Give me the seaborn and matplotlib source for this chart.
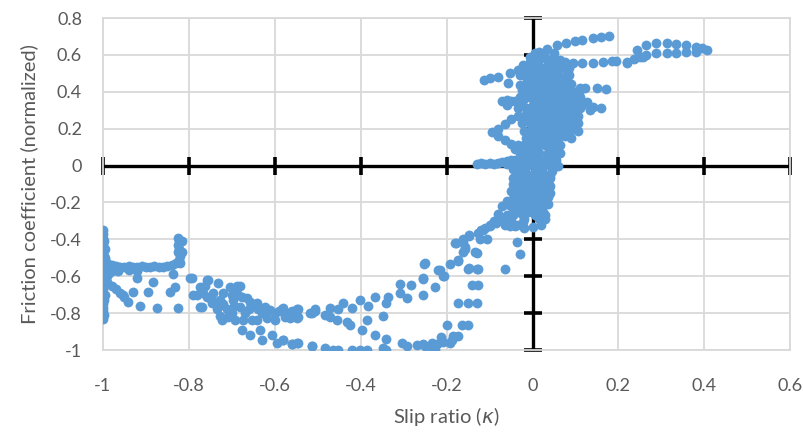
import numpy as np
import pandas as pd
import matplotlib
matplotlib.use("Agg")
import matplotlib.pyplot as plt
import seaborn as sns

# ---- measured (slip ratio, normalized friction) samples, grouped by trace section ----
lock_wall = [(-1.000, -0.35), (-0.999, -0.37), (-1.000, -0.39), (-0.998, -0.41), (-1.000, -0.43),
             (-0.999, -0.45), (-1.000, -0.47), (-0.998, -0.49), (-1.000, -0.51), (-0.999, -0.53),
             (-1.000, -0.55), (-0.998, -0.57), (-1.000, -0.59), (-0.999, -0.61), (-1.000, -0.63),
             (-0.998, -0.65), (-1.000, -0.67), (-0.999, -0.69), (-1.000, -0.71), (-0.998, -0.73),
             (-1.000, -0.75), (-0.999, -0.77), (-1.000, -0.79), (-0.998, -0.81), (-1.000, -0.83),
             (-0.995, -0.45), (-0.994, -0.50), (-0.993, -0.58), (-0.994, -0.62), (-0.995, -0.70),
             (-0.990, -0.60), (-0.985, -0.58), (-0.980, -0.57), (-0.990, -0.63), (-0.980, -0.655),
             (-0.970, -0.67), (-0.960, -0.69), (-0.950, -0.71)]

lock_band = [(-0.990, -0.53), (-0.980, -0.54), (-0.970, -0.545), (-0.960, -0.55), (-0.950, -0.55),
             (-0.940, -0.545), (-0.930, -0.55), (-0.920, -0.55), (-0.910, -0.545), (-0.900, -0.55),
             (-0.890, -0.55), (-0.880, -0.545), (-0.870, -0.55), (-0.860, -0.55), (-0.850, -0.545),
             (-0.840, -0.54), (-0.830, -0.53), (-0.985, -0.565), (-0.965, -0.57), (-0.940, -0.565),
             (-0.920, -0.57),
             (-0.825, -0.39), (-0.822, -0.41), (-0.825, -0.43), (-0.822, -0.45), (-0.825, -0.47),
             (-0.820, -0.49), (-0.823, -0.51), (-0.820, -0.53), (-0.815, -0.41), (-0.815, -0.47)]

lock_scatter = [(-0.930, -0.685), (-0.895, -0.685), (-0.942, -0.74), (-0.914, -0.76), (-0.874, -0.77),
                (-0.826, -0.77), (-0.953, -0.70), (-0.921, -0.61), (-0.884, -0.63), (-0.837, -0.59),
                (-0.798, -0.61), (-0.844, -0.685), (-0.833, -0.66), (-0.758, -0.62), (-0.774, -0.765),
                (-0.781, -0.70)]

upper_branch = [(-0.793, -0.61), (-0.790, -0.70), (-0.774, -0.66), (-0.770, -0.765), (-0.767, -0.69),
                (-0.763, -0.655), (-0.758, -0.71), (-0.756, -0.62), (-0.747, -0.745), (-0.744, -0.69),
                (-0.735, -0.78), (-0.733, -0.635), (-0.728, -0.73), (-0.728, -0.815), (-0.723, -0.835),
                (-0.721, -0.69), (-0.712, -0.78), (-0.705, -0.66), (-0.698, -0.73), (-0.693, -0.835),
                (-0.688, -0.655), (-0.681, -0.655), (-0.677, -0.71), (-0.681, -0.765), (-0.674, -0.835),
                (-0.677, -0.89), (-0.658, -0.74), (-0.653, -0.835), (-0.658, -0.92), (-0.642, -0.745),
                (-0.642, -0.835), (-0.635, -0.89), (-0.630, -0.945), (-0.623, -0.765), (-0.619, -0.825),
                (-0.607, -0.92), (-0.612, -0.785), (-0.600, -0.835), (-0.595, -0.96), (-0.584, -0.775),
                (-0.581, -0.945), (-0.577, -0.82), (-0.565, -0.825), (-0.560, -0.97), (-0.549, -0.775),
                (-0.547, -0.96), (-0.549, -0.825), (-0.519, -0.80), (-0.507, -0.78), (-0.514, -0.98),
                (-0.750, -0.72), (-0.740, -0.74), (-0.730, -0.76), (-0.720, -0.75), (-0.700, -0.70),
                (-0.690, -0.68), (-0.685, -0.70), (-0.695, -0.76), (-0.700, -0.80), (-0.710, -0.82),
                (-0.665, -0.72), (-0.670, -0.80), (-0.660, -0.78), (-0.650, -0.76), (-0.640, -0.78),
                (-0.630, -0.80), (-0.620, -0.79), (-0.600, -0.80), (-0.590, -0.79), (-0.570, -0.80),
                (-0.560, -0.79)]

mid_branch = [(-0.581, -0.773), (-0.565, -0.82), (-0.547, -0.78), (-0.547, -0.82), (-0.514, -0.80),
              (-0.507, -0.79), (-0.484, -0.81), (-0.472, -0.77), (-0.472, -0.82), (-0.453, -0.78),
              (-0.442, -0.745), (-0.456, -0.835), (-0.433, -0.85), (-0.426, -0.865), (-0.421, -0.77),
              (-0.402, -0.73), (-0.398, -0.89), (-0.386, -0.835), (-0.384, -0.76), (-0.367, -0.71),
              (-0.367, -0.92), (-0.349, -0.815), (-0.340, -0.94), (-0.340, -0.745), (-0.337, -0.71),
              (-0.309, -0.64), (-0.309, -0.69), (-0.293, -0.72), (-0.284, -0.65), (-0.256, -0.615),
              (-0.256, -0.70), (-0.253, -0.535), (-0.228, -0.66), (-0.219, -0.565), (-0.209, -0.60),
              (-0.193, -0.535), (-0.174, -0.52), (-0.151, -0.56), (-0.142, -0.645), (-0.174, -0.745),
              (-0.151, -0.745), (-0.130, -0.745), (-0.165, -0.865), (-0.151, -0.865), (-0.198, -0.865),
              (-0.186, -0.925), (-0.212, -0.93), (-0.163, -0.47), (-0.158, -0.44), (-0.181, -0.42),
              (-0.163, -0.415), (-0.147, -0.375), (-0.130, -0.475), (-0.130, -0.56), (-0.251, -0.53),
              (-0.256, -0.61), (-0.126, -0.645), (-0.126, -0.56), (-0.065, -0.56), (-0.188, -0.945)]

bottom_branch = [(-0.581, -0.945), (-0.560, -0.97), (-0.549, -0.96), (-0.514, -0.98), (-0.484, -0.99),
                 (-0.465, -1.00), (-0.453, -1.00), (-0.421, -1.00), (-0.402, -1.00), (-0.386, -1.00),
                 (-0.349, -0.99), (-0.340, -1.00), (-0.305, -0.96), (-0.293, -0.98), (-0.270, -0.975),
                 (-0.251, -0.98), (-0.233, -0.99), (-0.223, -0.97), (-0.209, -0.955), (-0.193, -0.96),
                 (-0.233, -0.96), (-0.256, -0.97), (-0.228, -1.00), (-0.174, -0.925)]

rise_branch = [(-0.216, -0.565), (-0.205, -0.60), (-0.174, -0.51), (-0.179, -0.42), (-0.158, -0.455),
               (-0.135, -0.47), (-0.147, -0.555), (-0.030, -0.48), (-0.037, -0.415), (-0.128, -0.365),
               (-0.116, -0.35), (-0.105, -0.40), (-0.100, -0.33), (-0.084, -0.31), (-0.077, -0.28),
               (-0.065, -0.32), (-0.053, -0.33), (-0.037, -0.32), (-0.023, -0.305), (-0.123, -0.40),
               (-0.149, -0.38), (-0.163, -0.40), (-0.080, -0.26), (-0.070, -0.22), (-0.065, -0.30),
               (-0.090, -0.30), (-0.100, -0.32), (-0.110, -0.34), (-0.120, -0.35),
               (-0.050, -0.30), (-0.040, -0.33), (-0.020, -0.34), (0.000, -0.335), (0.020, -0.32),
               (0.030, -0.29), (-0.060, -0.27), (0.030, -0.27)]

core_cluster = [(-0.130, 0.01), (-0.120, 0.015), (-0.110, 0.01), (-0.100, 0.015), (-0.090, 0.01),
                (-0.080, 0.015), (-0.070, 0.02), (-0.060, 0.025), (-0.050, 0.03),
                (-0.050, -0.22), (-0.045, -0.18), (-0.050, -0.14), (-0.045, -0.10), (-0.040, -0.06),
                (-0.045, -0.02), (-0.040, 0.03),
                (-0.020, -0.29), (-0.025, -0.25), (-0.020, -0.21), (-0.025, -0.17), (-0.020, -0.13),
                (-0.015, -0.09), (-0.020, -0.05), (-0.015, -0.01), (-0.020, 0.03), (-0.025, 0.07),
                (-0.020, 0.11), (-0.015, 0.15), (-0.020, 0.19), (-0.025, 0.23), (-0.020, 0.27),
                (-0.015, 0.31), (-0.020, 0.36), (-0.015, 0.40), (-0.010, 0.44), (-0.015, 0.48),
                (-0.010, 0.52), (-0.005, 0.56),
                (0.005, -0.27), (0.000, -0.23), (0.005, -0.19), (0.010, -0.15), (0.005, -0.11),
                (0.000, -0.07), (0.005, -0.03), (0.010, 0.01), (0.005, 0.05), (0.000, 0.09),
                (0.005, 0.13), (0.010, 0.17), (0.005, 0.21), (0.000, 0.25), (0.005, 0.29),
                (0.010, 0.33), (0.005, 0.37), (0.000, 0.41), (0.005, 0.45), (0.010, 0.49),
                (0.005, 0.53), (0.000, 0.57),
                (0.025, -0.25), (0.030, -0.21), (0.025, -0.17), (0.030, -0.13), (0.025, -0.09),
                (0.030, -0.05), (0.025, -0.01), (0.030, 0.03), (0.035, 0.07), (0.030, 0.11),
                (0.025, 0.15), (0.030, 0.19), (0.035, 0.23), (0.030, 0.27), (0.025, 0.31),
                (0.030, 0.35), (0.035, 0.39), (0.030, 0.43), (0.025, 0.47), (0.030, 0.51),
                (0.035, 0.55), (0.030, 0.59),
                (0.045, -0.01), (0.060, 0.00), (0.050, 0.02), (0.055, 0.06), (0.050, 0.10),
                (0.045, 0.14), (0.050, 0.18), (0.055, 0.22), (0.050, 0.26), (0.045, 0.30),
                (0.050, 0.34), (0.055, 0.38), (0.050, 0.42), (0.045, 0.46), (0.050, 0.50),
                (0.055, 0.54), (0.050, 0.58),
                (0.075, 0.16), (0.080, 0.20), (0.075, 0.24), (0.070, 0.28), (0.075, 0.32),
                (0.080, 0.36), (0.075, 0.40), (0.070, 0.44), (0.075, 0.48), (0.080, 0.52),
                (0.075, 0.56),
                (0.095, 0.20), (0.100, 0.24), (0.095, 0.28), (0.100, 0.32), (0.095, 0.36),
                (0.100, 0.40), (0.090, 0.44),
                (-0.095, 0.18), (-0.080, 0.20), (-0.065, 0.225), (-0.050, 0.25), (-0.035, 0.27),
                (-0.080, 0.16), (-0.065, 0.14), (-0.050, 0.115), (-0.040, 0.09), (-0.030, 0.07),
                (-0.072, 0.35), (-0.060, 0.355), (-0.050, 0.35), (-0.040, 0.35),
                (-0.112, 0.465), (-0.100, 0.475), (-0.081, 0.48), (-0.058, 0.45), (-0.053, 0.50),
                (-0.035, 0.52), (-0.023, 0.545), (-0.030, 0.435), (-0.014, 0.45)]

# densely overlapping loops around zero slip
core_fill = [(-0.035, -0.25), (-0.010, -0.25), (0.015, -0.25),
             (-0.060, -0.21), (-0.035, -0.21), (-0.010, -0.21), (0.015, -0.21), (0.035, -0.21),
             (-0.035, -0.17), (-0.010, -0.17), (0.015, -0.17), (0.035, -0.17),
             (-0.035, -0.13), (-0.010, -0.13), (0.015, -0.13), (0.035, -0.13),
             (-0.035, -0.09), (-0.010, -0.09), (0.015, -0.09), (0.035, -0.09),
             (-0.035, -0.05), (-0.010, -0.05), (0.015, -0.05), (0.040, -0.05),
             (-0.030, -0.03), (0.020, -0.03), (0.045, -0.03),
             (-0.035, 0.01), (-0.005, 0.01), (0.020, 0.01), (0.040, 0.01),
             (-0.030, 0.03), (-0.005, 0.03), (0.020, 0.03), (0.045, 0.03),
             (-0.010, 0.07), (0.015, 0.07), (0.045, 0.07), (0.065, 0.07),
             (-0.035, 0.11), (-0.010, 0.11), (0.015, 0.11), (0.040, 0.11), (0.065, 0.11),
             (-0.005, 0.15), (0.020, 0.15), (0.040, 0.15), (0.060, 0.15), (0.090, 0.15),
             (-0.005, 0.19), (0.020, 0.19), (0.040, 0.19), (0.065, 0.19), (0.085, 0.19), (0.105, 0.19),
             (-0.005, 0.23), (0.020, 0.23), (0.045, 0.23), (0.065, 0.23), (0.085, 0.23), (0.105, 0.23),
             (-0.005, 0.27), (0.020, 0.27), (0.040, 0.27), (0.060, 0.27), (0.085, 0.27), (0.105, 0.27),
             (-0.035, 0.31), (-0.005, 0.31), (0.015, 0.31), (0.040, 0.31), (0.060, 0.31), (0.085, 0.31),
             (0.110, 0.31),
             (-0.060, 0.33), (-0.030, 0.33), (0.000, 0.33), (0.020, 0.33), (0.045, 0.33), (0.065, 0.33),
             (0.090, 0.33), (0.115, 0.33),
             (-0.030, 0.37), (-0.005, 0.37), (0.020, 0.37), (0.040, 0.37), (0.065, 0.37), (0.090, 0.37),
             (0.110, 0.37),
             (-0.025, 0.41), (-0.005, 0.41), (0.020, 0.41), (0.040, 0.41), (0.060, 0.41), (0.085, 0.41),
             (0.110, 0.41),
             (-0.005, 0.45), (0.015, 0.45), (0.040, 0.45), (0.060, 0.45), (0.085, 0.45),
             (-0.030, 0.49), (-0.005, 0.49), (0.020, 0.49), (0.040, 0.49), (0.060, 0.49), (0.085, 0.49),
             (-0.020, 0.53), (0.020, 0.53), (0.040, 0.53), (0.065, 0.53), (0.085, 0.53),
             (0.015, 0.57), (0.040, 0.57), (0.065, 0.57),
             (0.005, 0.61), (0.050, 0.61),
             (-0.045, -0.27), (-0.022, -0.27), (0.015, -0.29),
             (-0.045, -0.23), (-0.022, -0.23), (0.018, -0.23),
             (-0.060, -0.19), (-0.022, -0.19), (0.018, -0.19),
             (-0.045, -0.15), (-0.002, -0.15), (0.040, -0.15),
             (-0.030, -0.11), (-0.002, -0.11), (0.020, -0.11), (0.040, -0.11),
             (-0.045, -0.07), (-0.025, -0.07), (0.018, -0.07), (0.040, -0.07),
             (-0.060, 0.01), (-0.020, -0.01), (0.055, 0.03)]

upper_tails = [(-0.007, 0.59), (0.016, 0.615), (0.033, 0.63), (0.056, 0.655), (0.079, 0.665),
               (0.098, 0.675), (0.116, 0.68), (0.140, 0.69), (0.160, 0.695), (0.179, 0.70),
               (0.093, 0.555), (0.116, 0.555), (0.140, 0.555), (0.163, 0.56), (0.184, 0.565),
               (0.195, 0.565), (0.219, 0.56), (0.221, 0.555), (0.237, 0.58), (0.249, 0.59),
               (0.265, 0.60), (0.288, 0.61), (0.312, 0.61), (0.335, 0.61), (0.358, 0.615),
               (0.381, 0.615), (0.405, 0.625), (0.244, 0.625), (0.265, 0.655), (0.288, 0.665),
               (0.312, 0.665), (0.335, 0.66), (0.358, 0.655), (0.381, 0.645), (0.395, 0.635),
               (0.256, 0.59),
               (0.110, 0.42), (0.121, 0.42), (0.151, 0.42), (0.172, 0.415), (0.110, 0.33),
               (0.126, 0.345), (0.140, 0.32), (0.160, 0.31), (0.133, 0.30)]

sections = [lock_wall, lock_band, lock_scatter, upper_branch, mid_branch,
            bottom_branch, rise_branch, core_cluster, core_fill, upper_tails]
df = pd.DataFrame([p for s in sections for p in s], columns=["slip", "mu"])

x_ticks = [-1.0, -0.8, -0.6, -0.4, -0.2, 0.0, 0.2, 0.4, 0.6]
x_tick_labels = ["-1", "-0.8", "-0.6", "-0.4", "-0.2", "0", "0.2", "0.4", "0.6"]
y_ticks = [-1.0, -0.8, -0.6, -0.4, -0.2, 0.0, 0.2, 0.4, 0.6, 0.8]
y_tick_labels = ["-1", "-0.8", "-0.6", "-0.4", "-0.2", "0", "0.2", "0.4", "0.6", "0.8"]

sns.set_theme(style="white")
plt.rcParams["font.family"] = ["Lato", "DejaVu Sans"]

TEXT = "#595959"
GRID = "#d9d9d9"
BLUE = "#5B9BD5"

fig = plt.figure(figsize=(8.04, 4.34), dpi=100)
ax = fig.add_axes([0.128, 0.1935, 0.855, 0.765])

sns.scatterplot(data=df, x="slip", y="mu", color=BLUE, s=50, linewidth=0,
                alpha=1.0, ax=ax, zorder=4, legend=False)

ax.set_xlim(-1.0, 0.6)
ax.set_ylim(-1.0, 0.8)
ax.set_xticks(x_ticks)
ax.set_xticklabels(x_tick_labels)
ax.set_yticks(y_ticks)
ax.set_yticklabels(y_tick_labels)
ax.grid(True, color=GRID, linewidth=1.3, zorder=0)
for sp in ax.spines.values():
    sp.set_color(GRID)
    sp.set_linewidth(1.3)
ax.tick_params(axis="both", length=0, colors=TEXT, labelsize=13)
ax.tick_params(axis="x", pad=20)
ax.tick_params(axis="y", pad=15)

# black crossing axes through the origin with cross-style tick marks
ax.axhline(0, color="black", linewidth=2.4, zorder=2)
ax.axvline(0, color="black", linewidth=2.4, zorder=2)
ax.plot(x_ticks, [0] * len(x_ticks), linestyle="none", marker="|", markersize=13,
        markeredgewidth=2.6, color="black", zorder=2, clip_on=False)
ax.plot([0] * len(y_ticks), y_ticks, linestyle="none", marker="_", markersize=13,
        markeredgewidth=2.6, color="black", zorder=2, clip_on=False)

ax.set_xlabel(r"Slip ratio ($\kappa$)", fontsize=14.5, color=TEXT, labelpad=8)
ax.set_ylabel("Friction coefficient (normalized)", fontsize=14.5, color=TEXT, labelpad=9)

fig.savefig("out.png", dpi=100)
